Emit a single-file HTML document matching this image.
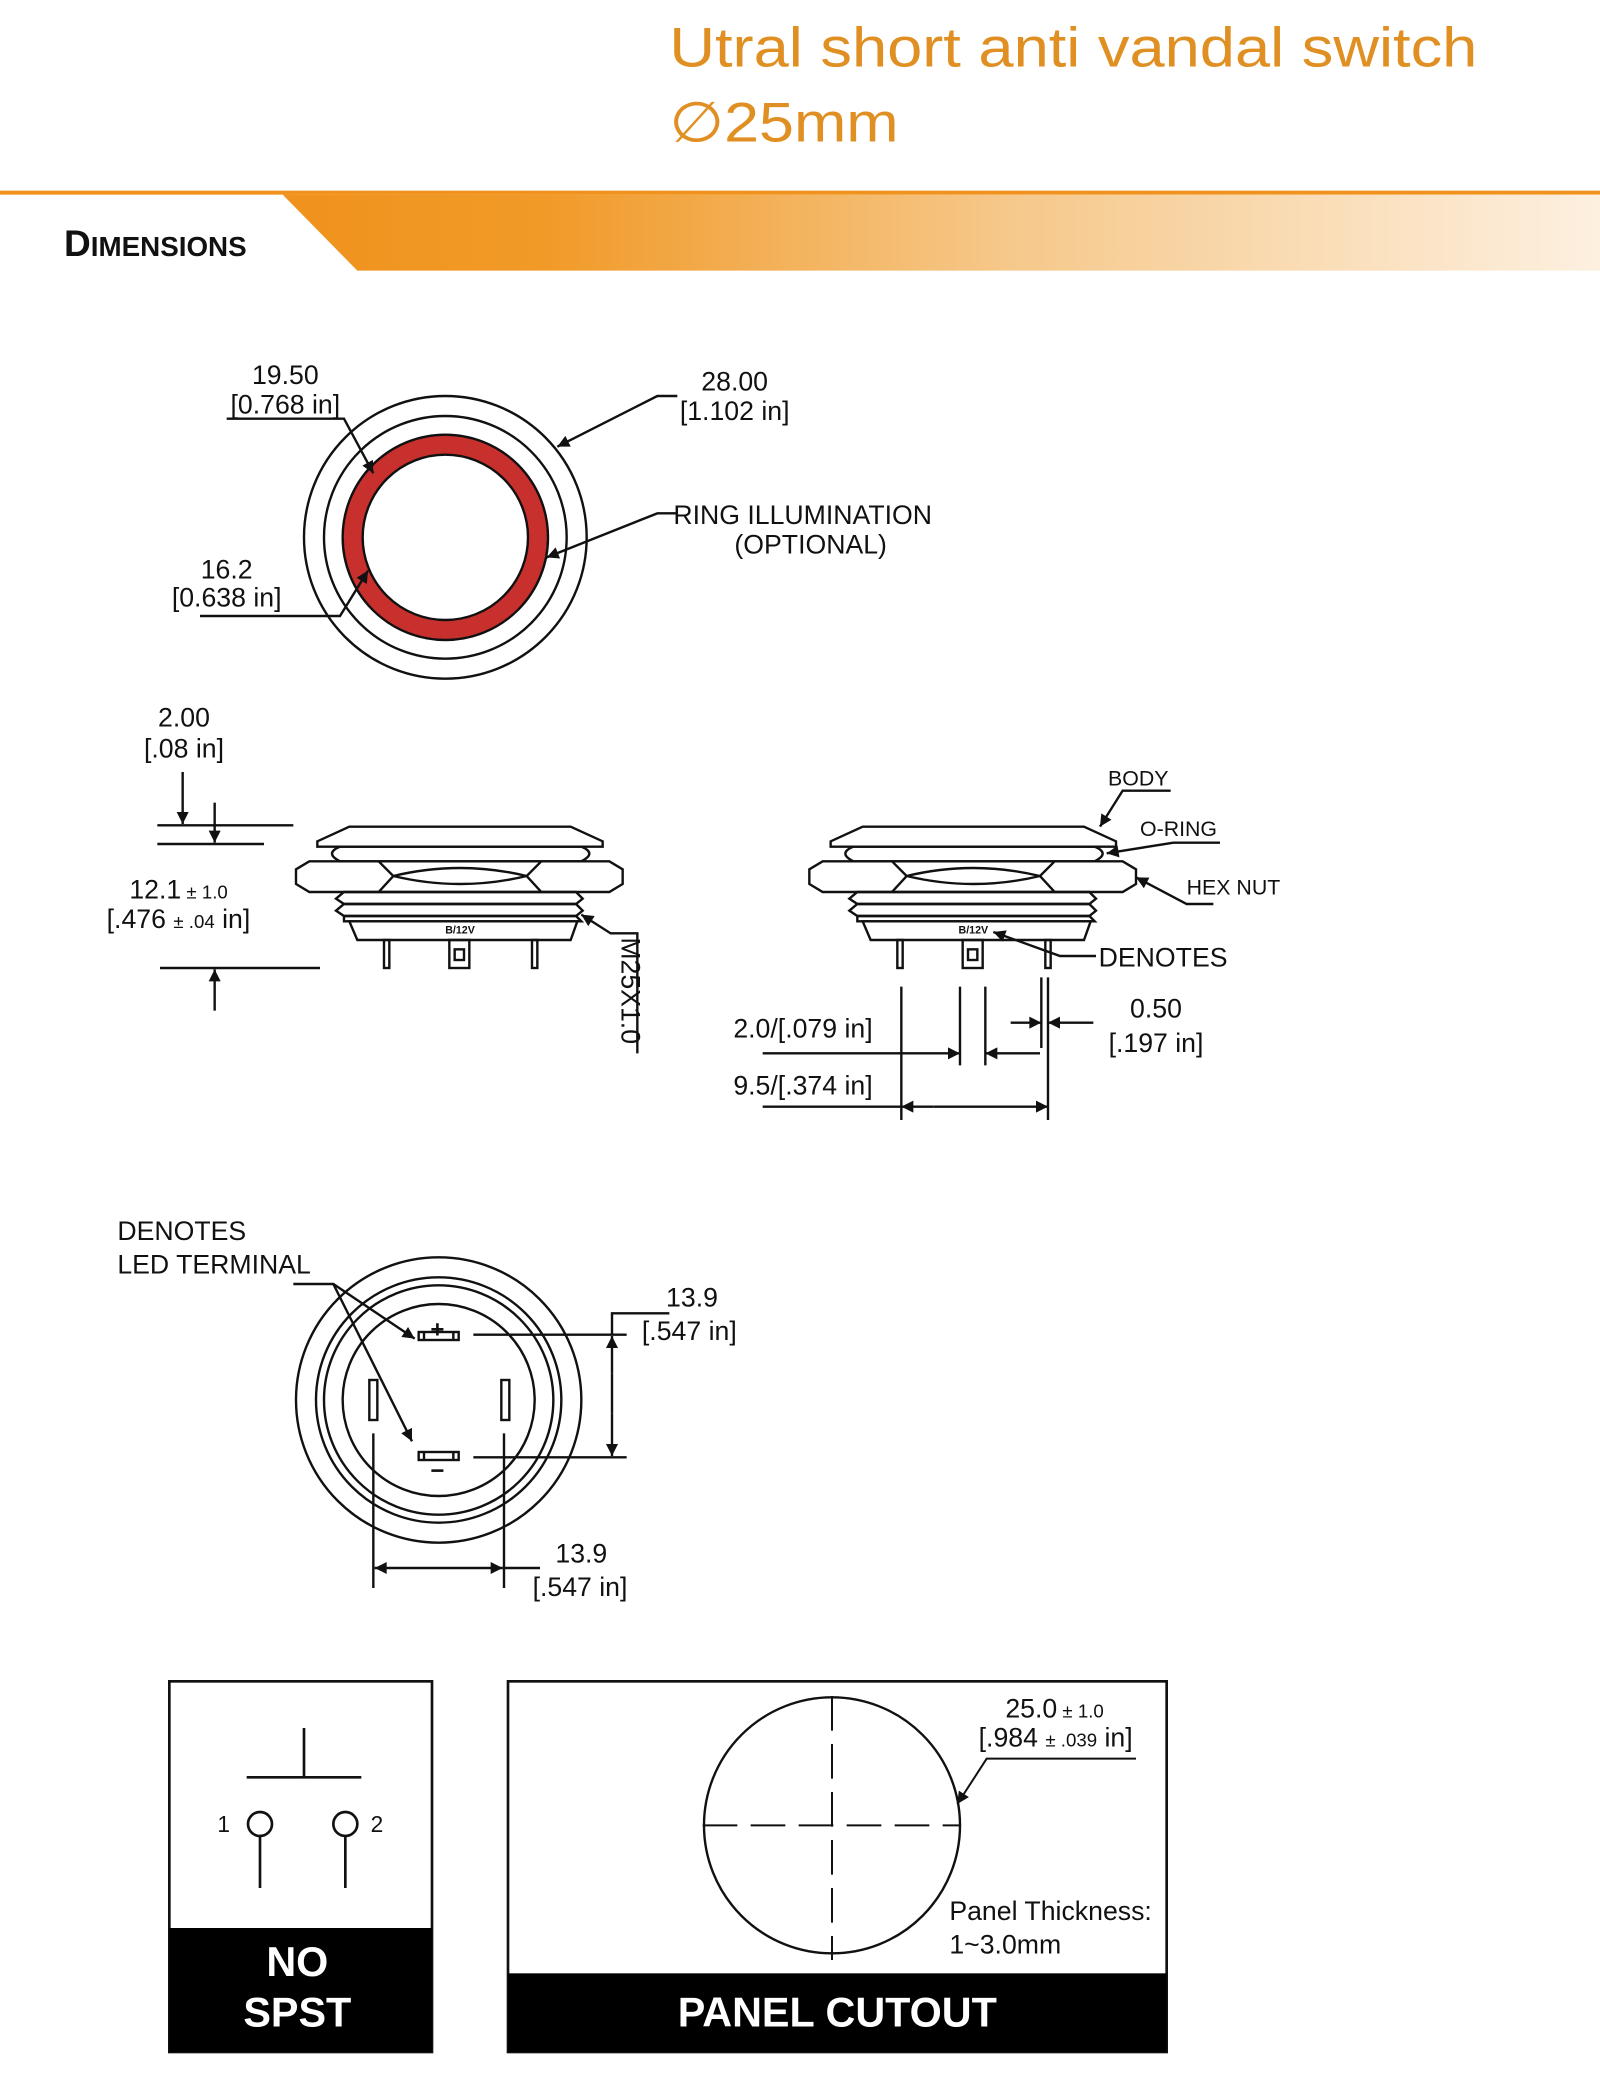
<!DOCTYPE html>
<html><head><meta charset="utf-8"><style>
html,body{margin:0;padding:0;background:#fff;}
svg{display:block;}
text{font-family:"Liberation Sans",Arial,sans-serif;fill:#111;}
</style></head><body>
<svg width="1600" height="2094" viewBox="0 0 1200 1570.5" xmlns="http://www.w3.org/2000/svg">
<defs>
<linearGradient id="g" x1="0" x2="1" y1="0" y2="0">
<stop offset="0" stop-color="#f0921c"/><stop offset="0.2" stop-color="#f19a28"/><stop offset="0.55" stop-color="#f6c88a"/><stop offset="1" stop-color="#fdf0e0"/>
</linearGradient>
<marker id="a" viewBox="0 0 10 10" refX="10" refY="5" markerWidth="14" markerHeight="9" markerUnits="userSpaceOnUse" orient="auto"><path d="M0,0 L10,5 L0,10 z" fill="#111"/></marker>
</defs>
<rect x="0" y="0" width="1200" height="1571" fill="#fff"/>
<!-- header -->
<text x="502" y="50" font-size="42" style="fill:#e08f22" textLength="606" lengthAdjust="spacingAndGlyphs">Utral short anti vandal switch</text>
<text x="502" y="106" font-size="42" style="fill:#e08f22" textLength="172" lengthAdjust="spacingAndGlyphs">∅25mm</text>
<rect x="0" y="143" width="1200" height="3" fill="#f0921c"/>
<polygon points="212,146 1200,146 1200,203 268,203" fill="url(#g)"/>
<text x="48" y="192" font-size="28" font-weight="bold" textLength="137" lengthAdjust="spacingAndGlyphs">D<tspan font-size="21">IMENSIONS</tspan></text>

<g fill="none" stroke="#111" stroke-width="1.8">
<!-- front view -->
<circle cx="334" cy="403" r="106"/>
<circle cx="334" cy="403" r="91"/>
<circle cx="334" cy="403" r="77" fill="#c8302d" stroke="#111"/>
<circle cx="334" cy="403" r="62" fill="#fff"/>
<polyline points="170,314 258,314 280,355" marker-end="url(#a)"/>
<polyline points="150,462 255,462 276,428" marker-end="url(#a)"/>
<polyline points="508,297 493,297 418,335" marker-end="url(#a)"/>
<polyline points="508,385 493,385 410,418" marker-end="url(#a)"/>

<!-- left side view -->
<g id="sv">
<polygon points="262,620 428,620 452,631 452,635 238,635 238,631"/>
<path d="M255,635 L436,635 Q448,640 436,646 L255,646 Q243,640 255,635 z"/>
<polygon points="232,646 457,646 467,652 467,663 457,669 232,669 222,663 222,652"/>
<path d="M284,646 L295,657 L284,669 M406,646 L395,657 L406,669 M295,657 Q345,645 395,657 Q345,669 295,657"/>
<path d="M258,669 L432,669 L437,674 L432,678 L258,678 L252,674 z"/>
<path d="M258,678 L432,678 L437,683 L432,687 L258,687 L252,683 z"/>
<path d="M258,687 L432,687 L436,691 L258,691 z"/>
<path d="M262,691 L433,691 L428,705 L268,705 z"/>
<rect x="288" y="705" width="4" height="21"/>
<rect x="399" y="705" width="4" height="21"/>
<rect x="337" y="705" width="15" height="21"/>
<rect x="341" y="712" width="7" height="8"/>
</g>
<use href="#sv" transform="translate(385,0)"/>

<!-- left dims -->
<line x1="118" y1="619" x2="220" y2="619"/>
<line x1="118" y1="633" x2="198" y2="633"/>
<line x1="120" y1="726" x2="240" y2="726"/>
<line x1="137" y1="579" x2="137" y2="618" marker-end="url(#a)"/>
<line x1="161" y1="602" x2="161" y2="632" marker-end="url(#a)"/>
<line x1="161" y1="758" x2="161" y2="727" marker-end="url(#a)"/>
<polyline points="478,790 478,700 458,700 436,686" marker-end="url(#a)"/>

<!-- right dims -->
<polyline points="878,593 842,593 825,620" marker-end="url(#a)"/>
<polyline points="915,632 880,632 830,640" marker-end="url(#a)"/>
<polyline points="910,678 890,678 852,658" marker-end="url(#a)"/>
<polyline points="822,717 795,717 745,699" marker-end="url(#a)"/>
<line x1="676" y1="740" x2="676" y2="840"/>
<line x1="720" y1="740" x2="720" y2="799"/>
<line x1="739" y1="740" x2="739" y2="799"/>
<line x1="781" y1="733" x2="781" y2="786"/>
<line x1="786" y1="733" x2="786" y2="840"/>
<line x1="572" y1="790" x2="720" y2="790" marker-end="url(#a)"/>
<line x1="780" y1="790" x2="739" y2="790" marker-end="url(#a)"/>
<line x1="758" y1="767" x2="781" y2="767" marker-end="url(#a)"/>
<line x1="820" y1="767" x2="786" y2="767" marker-end="url(#a)"/>
<line x1="572" y1="830" x2="676" y2="830"/>
<line x1="700" y1="830" x2="676" y2="830" marker-end="url(#a)"/>
<line x1="700" y1="830" x2="786" y2="830" marker-end="url(#a)"/>

<!-- bottom view -->
<circle cx="329" cy="1050" r="107"/>
<circle cx="329" cy="1050" r="92"/>
<circle cx="329" cy="1050" r="86"/>
<circle cx="329" cy="1050" r="72"/>
<rect x="314" y="999" width="30" height="6"/>
<line x1="318" y1="999" x2="318" y2="1005"/><line x1="340" y1="999" x2="340" y2="1005"/>
<rect x="314" y="1089" width="30" height="6"/>
<line x1="318" y1="1089" x2="318" y2="1095"/><line x1="340" y1="1089" x2="340" y2="1095"/>
<rect x="277" y="1035" width="6" height="30"/>
<rect x="376" y="1035" width="6" height="30"/>
<polyline points="220,963 250,963 311,1004" marker-end="url(#a)"/>
<line x1="250" y1="963" x2="309" y2="1081" marker-end="url(#a)"/>
<line x1="355" y1="1001" x2="470" y2="1001"/>
<line x1="355" y1="1093" x2="470" y2="1093"/>
<polyline points="502,985 480,985 459,985 459,1001"/>
<line x1="459" y1="1030" x2="459" y2="1002" marker-end="url(#a)"/>
<line x1="459" y1="1060" x2="459" y2="1092" marker-end="url(#a)"/>
<line x1="459" y1="1030" x2="459" y2="1060"/>
<line x1="280" y1="1075" x2="280" y2="1191"/>
<line x1="378" y1="1075" x2="378" y2="1191"/>
<line x1="330" y1="1176" x2="281" y2="1176" marker-end="url(#a)"/>
<line x1="330" y1="1176" x2="377" y2="1176" marker-end="url(#a)"/>
<line x1="377" y1="1176" x2="405" y2="1176"/>
</g>
<text x="328" y="1003" font-size="18" font-weight="bold" text-anchor="middle">+</text>
<text x="328" y="1109" font-size="18" font-weight="bold" text-anchor="middle">−</text>
<text x="345" y="700" font-size="8" font-weight="bold" text-anchor="middle">B/12V</text>
<text x="730" y="700" font-size="8" font-weight="bold" text-anchor="middle">B/12V</text>

<g font-size="20">
<text x="214" y="288" text-anchor="middle">19.50</text>
<text x="214" y="310" text-anchor="middle">[0.768 in]</text>
<text x="551" y="293" text-anchor="middle">28.00</text>
<text x="551" y="315" text-anchor="middle">[1.102 in]</text>
<text x="505" y="393">RING ILLUMINATION</text>
<text x="608" y="415" text-anchor="middle">(OPTIONAL)</text>
<text x="170" y="434" text-anchor="middle">16.2</text>
<text x="170" y="455" text-anchor="middle">[0.638 in]</text>
<text x="138" y="545" text-anchor="middle">2.00</text>
<text x="138" y="568" text-anchor="middle">[.08 in]</text>
<text x="97" y="674">12.1<tspan font-size="14"> ± 1.0</tspan></text>
<text x="80" y="696">[.476 <tspan font-size="14">± .04</tspan> in]</text>
<text x="466" y="703" transform="rotate(90 466 703)">M25X1.0</text>
<text x="824" y="725">DENOTES</text>
<text x="550" y="778">2.0/[.079 in]</text>
<text x="550" y="821">9.5/[.374 in]</text>
<text x="867" y="763" text-anchor="middle">0.50</text>
<text x="867" y="789" text-anchor="middle">[.197 in]</text>
<text x="88" y="930">DENOTES</text>
<text x="88" y="955">LED TERMINAL</text>
<text x="519" y="980" text-anchor="middle">13.9</text>
<text x="517" y="1005" text-anchor="middle">[.547 in]</text>
<text x="436" y="1172" text-anchor="middle">13.9</text>
<text x="435" y="1197" text-anchor="middle">[.547 in]</text>
</g>
<g font-size="16">
<text x="831" y="589">BODY</text>
<text x="855" y="627">O-RING</text>
<text x="890" y="671">HEX NUT</text>
</g>

<!-- NO SPST box -->
<g fill="none" stroke="#111" stroke-width="2">
<rect x="127" y="1261" width="197" height="278"/>
<line x1="185" y1="1333" x2="271" y2="1333"/>
<line x1="228" y1="1296" x2="228" y2="1333"/>
<circle cx="195" cy="1368" r="9"/>
<circle cx="259" cy="1368" r="9"/>
<line x1="195" y1="1377" x2="195" y2="1416"/>
<line x1="259" y1="1377" x2="259" y2="1416"/>
<rect x="381" y="1261" width="494" height="278"/>
<circle cx="624" cy="1369" r="96" stroke-width="1.8"/>
<line x1="527" y1="1369" x2="720" y2="1369" stroke-dasharray="26,10" stroke-width="1.5"/>
<line x1="624" y1="1272" x2="624" y2="1470" stroke-dasharray="26,10" stroke-width="1.5"/>
<polyline points="852,1319 740,1319 718,1353" stroke-width="1.5" marker-end="url(#a)"/>
</g>
<rect x="127" y="1446" width="197" height="93" fill="#000"/>
<rect x="381" y="1480" width="494" height="59" fill="#000"/>
<text x="163" y="1374" font-size="17">1</text>
<text x="278" y="1374" font-size="17">2</text>
<text x="223" y="1482" font-size="31" font-weight="bold" text-anchor="middle" style="fill:#fff">NO</text>
<text x="223" y="1520" font-size="31" font-weight="bold" text-anchor="middle" style="fill:#fff">SPST</text>
<text x="628" y="1520" font-size="31" font-weight="bold" text-anchor="middle" style="fill:#fff">PANEL CUTOUT</text>
<text x="754" y="1288" font-size="20">25.0<tspan font-size="14"> ± 1.0</tspan></text>
<text x="734" y="1310" font-size="20">[.984 <tspan font-size="14">± .039</tspan> in]</text>
<text x="712" y="1440" font-size="20">Panel Thickness:</text>
<text x="712" y="1465" font-size="20">1~3.0mm</text>
</svg>
</body></html>
